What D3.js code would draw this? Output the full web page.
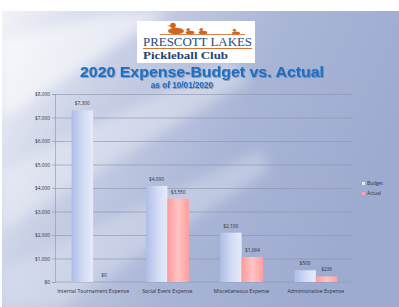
<!DOCTYPE html>
<html>
<head>
<meta charset="utf-8">
<script src="https://cdn.jsdelivr.net/npm/d3@7"></script>
<style>
  html, body { margin: 0; padding: 0; background: #fff; }
  svg { display: block; }
</style>
</head>
<body>
<svg id="chart"></svg>
<script>
// ── DATA ─────────────────────────────────────────────────────────────────
const categories = [
  "Internal Tournament Expense",
  "Social Event Expense",
  "Miscellaneous Expense",
  "Administrative Expense",
];
const seriesNames = ["Budget", "Actual"];
const budget = [7300, 4090, 2100, 500];
const actual = [0, 3550, 1064, 236];
const yTicks = [0, 1000, 2000, 3000, 4000, 5000, 6000, 7000, 8000];

// ── DIMENSIONS ───────────────────────────────────────────────────────────
const W = 399, H = 307;
const plot = { left: 55, right: 353, top: 94, bottom: 282 };

const svg = d3.select("#chart").attr("width", W).attr("height", H);
const defs = svg.append("defs");

// background gradients
const bg = defs.append("linearGradient").attr("id", "bg")
  .attr("x1", "0").attr("y1", "0").attr("x2", "1").attr("y2", "0.35");
bg.append("stop").attr("offset", "0").attr("stop-color", "#f2f3f8");
bg.append("stop").attr("offset", "0.3").attr("stop-color", "#c9d0e6");
bg.append("stop").attr("offset", "0.65").attr("stop-color", "#a9b5d6");
bg.append("stop").attr("offset", "1").attr("stop-color", "#9eabd0");

defs.append("filter").attr("id", "blur").append("feGaussianBlur").attr("stdDeviation", 6);
defs.append("filter").attr("id", "shadow")
  .append("feDropShadow").attr("dx", 0.8).attr("dy", 0.8).attr("stdDeviation", 0.5)
  .attr("flood-color", "#1a2a50").attr("flood-opacity", 0.4);

const gBudget = defs.append("linearGradient").attr("id", "gBudget");
gBudget.append("stop").attr("offset", "0").attr("stop-color", "#aebde8");
gBudget.append("stop").attr("offset", "0.55").attr("stop-color", "#d3dcf4");
gBudget.append("stop").attr("offset", "1").attr("stop-color", "#e6ebf9");

const gActual = defs.append("linearGradient").attr("id", "gActual");
gActual.append("stop").attr("offset", "0").attr("stop-color", "#ff9a9a");
gActual.append("stop").attr("offset", "0.5").attr("stop-color", "#ffc4c4");
gActual.append("stop").attr("offset", "1").attr("stop-color", "#ff9e9e");

// ── BACKGROUND ───────────────────────────────────────────────────────────
svg.append("rect").attr("x", 2).attr("y", 11).attr("width", W - 2).attr("height", H - 11)
  .attr("fill", "url(#bg)");

const streaks = svg.append("g").attr("filter", "url(#blur)").attr("opacity", 0.55);
streaks.append("path").attr("d", "M2,40 L120,11 L170,11 L2,120 Z").attr("fill", "#ffffff");
streaks.append("path").attr("d", "M2,170 L230,60 L250,80 L2,230 Z").attr("fill", "#ffffff").attr("opacity", 0.6);
streaks.append("path").attr("d", "M2,270 L260,150 L270,170 L60,307 L2,307 Z").attr("fill", "#e6eaf5").attr("opacity", 0.7);

// ── LOGO ─────────────────────────────────────────────────────────────────
const logo = svg.append("g");
logo.append("rect").attr("x", 137).attr("y", 21).attr("width", 118).attr("height", 42).attr("fill", "#ffffff");
const duckColor = "#d2641e";
[[176, 29, 1], [190, 31.5, 0.55], [203, 31.5, 0.55], [236, 32, 0.5]].forEach(([x, y, s]) => {
  const d = logo.append("g").attr("transform", `translate(${x},${y}) scale(${s})`).attr("fill", duckColor);
  d.append("ellipse").attr("cx", 0).attr("cy", 2).attr("rx", 8).attr("ry", 3.2);
  d.append("circle").attr("cx", -3).attr("cy", -3.5).attr("r", 2.8);
  d.append("path").attr("d", "M-5.5,-4 L-9,-3 L-5.5,-2.5 Z");
});
logo.append("line").attr("x1", 160).attr("x2", 245).attr("y1", 34.5).attr("y2", 34.5)
  .attr("stroke", duckColor).attr("stroke-width", 0.8);
logo.append("text").attr("x", 143).attr("y", 46)
  .attr("font-family", "Liberation Serif, serif").attr("font-size", 12.5)
  .attr("textLength", 109).attr("lengthAdjust", "spacingAndGlyphs")
  .attr("fill", "#234a86").text("PRESCOTT LAKES");
logo.append("line").attr("x1", 143).attr("x2", 252).attr("y1", 48.5).attr("y2", 48.5)
  .attr("stroke", duckColor).attr("stroke-width", 0.9);
logo.append("text").attr("x", 143).attr("y", 59)
  .attr("font-family", "Liberation Serif, serif").attr("font-size", 11).attr("font-weight", "bold")
  .attr("textLength", 85).attr("lengthAdjust", "spacingAndGlyphs")
  .attr("fill", "#1f3f78").text("Pickleball Club");

// ── TITLES ───────────────────────────────────────────────────────────────
svg.append("text").attr("x", 202).attr("y", 76.5).attr("text-anchor", "middle")
  .attr("font-family", "Liberation Sans, Arial, sans-serif").attr("font-weight", "bold")
  .attr("font-size", 14.5).attr("fill", "#1f6fc4").attr("filter", "url(#shadow)")
  .attr("textLength", 244).attr("lengthAdjust", "spacingAndGlyphs")
  .text("2020 Expense-Budget vs. Actual");
svg.append("text").attr("x", 182).attr("y", 88).attr("text-anchor", "middle")
  .attr("font-family", "Liberation Sans, Arial, sans-serif").attr("font-weight", "bold")
  .attr("font-size", 8.2).attr("fill", "#1f6fc4").attr("filter", "url(#shadow)")
  .text("as of 10/01/2020");

// ── SCALES ───────────────────────────────────────────────────────────────
const x0 = d3.scaleBand().domain(categories)
  .range([plot.left + 1, plot.right]).paddingInner(0.42).paddingOuter(0.21);
const x1 = d3.scaleBand().domain(seriesNames).range([0, x0.bandwidth()]);
const y = d3.scaleLinear().domain([0, 8000]).range([plot.bottom, plot.top]);

const fontUI = "Open Sans, DejaVu Sans, sans-serif";
const textCol = "#2a2f3c";

// ── GRID ─────────────────────────────────────────────────────────────────
svg.append("g").attr("transform", `translate(${plot.left},0)`)
  .call(d3.axisLeft(y).tickValues(yTicks.slice(1)).tickSize(-(plot.right - plot.left)).tickFormat(""))
  .call(ax => ax.select(".domain").remove())
  .call(ax => ax.selectAll(".tick line").attr("stroke", "#8a93ab").attr("stroke-width", 0.6));

// ── AXES ─────────────────────────────────────────────────────────────────
svg.append("g").attr("transform", `translate(${plot.left},0)`)
  .call(d3.axisLeft(y).tickValues(yTicks).tickSize(3).tickPadding(2).tickFormat(d3.format("$,")))
  .call(ax => ax.select(".domain").attr("stroke", "#8a93ab").attr("stroke-width", 0.6))
  .call(ax => ax.selectAll(".tick line").attr("stroke", "#8a93ab").attr("stroke-width", 0.6))
  .call(ax => ax.selectAll(".tick text").attr("font-family", fontUI).attr("font-size", 4.8).attr("fill", textCol));

svg.append("g").attr("transform", `translate(0,${plot.bottom})`)
  .call(d3.axisBottom(x0).tickSize(0).tickPadding(7))
  .call(ax => ax.select(".domain").attr("stroke", "#8a93ab").attr("stroke-width", 0.6)
    .attr("d", `M${plot.left},0H${plot.right}`))
  .call(ax => ax.selectAll(".tick text").attr("font-family", fontUI).attr("font-size", 5.2).attr("fill", textCol));

// ── BARS ─────────────────────────────────────────────────────────────────
const rows = categories.map((c, i) => ({ cat: c, vals: [
  { key: "Budget", v: budget[i] }, { key: "Actual", v: actual[i] } ] }));

const groups = svg.append("g").selectAll("g").data(rows).join("g")
  .attr("transform", d => `translate(${x0(d.cat)},0)`);

groups.selectAll("rect").data(d => d.vals).join("rect")
  .attr("x", d => x1(d.key))
  .attr("width", x1.bandwidth())
  .attr("y", d => y(d.v))
  .attr("height", d => y(0) - y(d.v))
  .attr("fill", d => d.key === "Budget" ? "url(#gBudget)" : "url(#gActual)");

groups.selectAll("text").data(d => d.vals).join("text")
  .attr("x", d => x1(d.key) + x1.bandwidth() / 2)
  .attr("y", d => y(d.v) - 5)
  .attr("text-anchor", "middle")
  .attr("font-family", fontUI).attr("font-size", 4.8).attr("fill", textCol)
  .text(d => d3.format("$,")(d.v));

// ── LEGEND ───────────────────────────────────────────────────────────────
const legend = svg.append("g").attr("transform", "translate(362,184)");
seriesNames.forEach((name, i) => {
  const it = legend.append("g").attr("transform", `translate(0,${i * 10})`);
  it.append("rect").attr("x", 0).attr("y", -2).attr("width", 3).attr("height", 3)
    .attr("fill", i === 0 ? "#e6ebf9" : "#ff9fb0");
  it.append("text").attr("x", 5).attr("y", 1.2)
    .attr("font-family", fontUI).attr("font-size", 4.8).attr("fill", textCol).text(name);
});
</script>
</body>
</html>
